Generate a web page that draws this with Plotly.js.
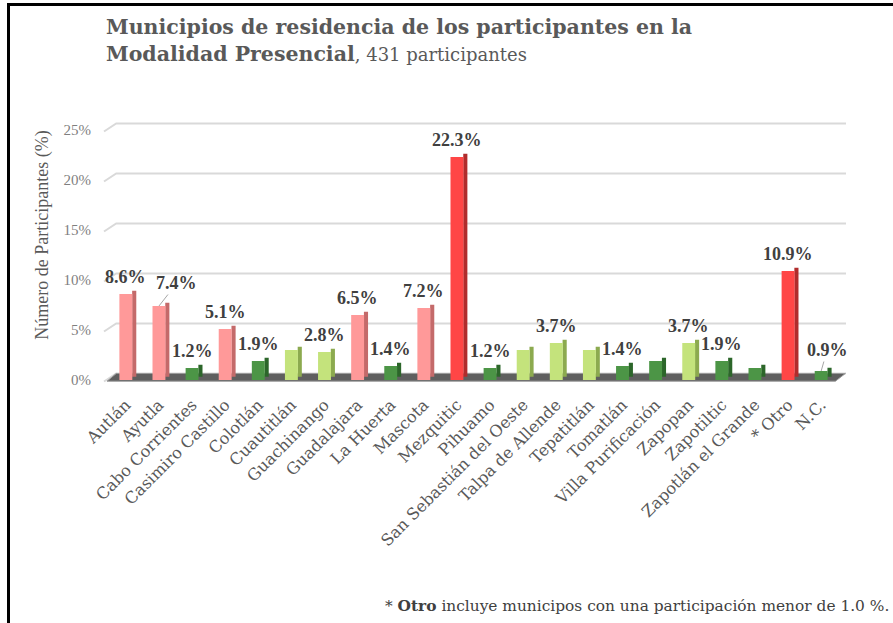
<!DOCTYPE html>
<html>
<head>
<meta charset="utf-8">
<script src="https://cdn.plot.ly/plotly-3.0.1.min.js"></script>
<style>
  html, body { margin: 0; padding: 0; background: #fff; }
  #chart { width: 893px; height: 623px; }
</style>
</head>
<body>
<div id="chart"></div>
<script>
// ── Data ──────────────────────────────────────────────────────
const MUNICIPIOS = [
  "Autlán", "Ayutla", "Cabo Corrientes", "Casimiro Castillo", "Colotlán",
  "Cuautitlán", "Guachinango", "Guadalajara", "La Huerta", "Mascota",
  "Mezquitic", "Pihuamo", "San Sebastián del Oeste", "Talpa de Allende",
  "Tepatitlán", "Tomatlán", "Villa Purificación", "Zapopan", "Zapotiltic",
  "Zapotlán el Grande", "* Otro", "N.C."
];

// percent of 431 participants
const PORCENTAJES = [
  8.6, 7.4, 1.2, 5.1, 1.9,
  3.0, 2.8, 6.5, 1.4, 7.2,
  22.3, 1.2, 3.0, 3.7,
  3.0, 1.4, 1.9, 3.7, 1.9,
  1.2, 10.9, 0.9
];

// data labels as shown on the chart ("" = not labelled)
const ETIQUETAS = [
  "8.6%", "7.4%", "1.2%", "5.1%", "1.9%",
  "", "2.8%", "6.5%", "1.4%", "7.2%",
  "22.3%", "1.2%", "", "3.7%",
  "", "1.4%", "", "3.7%", "1.9%",
  "", "10.9%", "0.9%"
];

const Y_TICKS = [0, 5, 10, 15, 20, 25];

// ── Style ─────────────────────────────────────────────────────
const SERIF = "Liberation Serif, Times New Roman, serif";
const WIDE_SERIF = "DejaVu Serif, serif";
const DEPTH = 0.65;   // fake 3D depth, in y units

function bandColor(v) {
  if (v >= 10) return { front: "#FF4646", side: "#B02C2C" };
  if (v >= 5)  return { front: "#FF9999", side: "#C46A6A" };
  if (v >= 2.5) return { front: "#C4E37C", side: "#8CAA4F" };
  return { front: "#4C9546", side: "#2C662A" };
}

// label leader lines: index -> [ax, ay]
const LEADERS = { 1: [18, -23], 21: [6, -21] };

// ── Traces ────────────────────────────────────────────────────
const colors = PORCENTAJES.map(bandColor);

const sideTrace = {
  type: "bar",
  x: MUNICIPIOS,
  y: PORCENTAJES,
  base: DEPTH / 2,
  offset: 0.19,
  width: 0.125,
  marker: { color: colors.map(c => c.side), line: { width: 0 } },
  hoverinfo: "skip",
  showlegend: false,
};

const frontTrace = {
  type: "bar",
  x: MUNICIPIOS,
  y: PORCENTAJES,
  offset: -0.195,
  width: 0.39,
  marker: { color: colors.map(c => c.front), line: { width: 0 } },
  showlegend: false,
};

// ── Shapes: floor + back-wall gridlines ───────────────────────
const shapes = [];
Y_TICKS.forEach(v => {
  shapes.push({
    type: "path",
    xref: "x", yref: "y",
    path: `M -0.66,${v - 0.15} L -0.29,${v + DEPTH} L 21.75,${v + DEPTH}`,
    line: { color: "#D9D9D9", width: 2 },
    layer: "below",
  });
});
shapes.push({
  type: "path",
  xref: "x", yref: "y",
  path: `M -0.57,-0.12 L 21.43,-0.12 L 21.73,${DEPTH} L -0.29,${DEPTH} Z`,
  fillcolor: "#5F5F5F",
  line: { color: "#9A9A9A", width: 1 },
  layer: "below",
});

// ── Annotations ───────────────────────────────────────────────
const annotations = [];
ETIQUETAS.forEach((t, i) => {
  if (!t) return;
  const lead = LEADERS[i];
  const a = {
    x: MUNICIPIOS[i],
    y: PORCENTAJES[i],
    text: "<b>" + t + "</b>",
    font: { family: SERIF, size: 18, color: "#404040" },
  };
  if (lead) {
    Object.assign(a, {
      showarrow: true, arrowhead: 0, arrowwidth: 1, arrowcolor: "#A6A6A6",
      ax: lead[0], ay: lead[1], standoff: 0,
    });
  } else {
    Object.assign(a, { showarrow: false, yanchor: "bottom", yshift: 5 });
  }
  annotations.push(a);
});

// title
annotations.push({
  xref: "paper", yref: "paper",
  x: (104 - 103) / 744, y: (383 - 13) / 263,
  xanchor: "left", yanchor: "top", align: "left",
  showarrow: false,
  text: "<b>Municipios de residencia de los participantes en la</b><br>" +
        "<b>Modalidad Presencial</b><span style='font-size:18px'>, 431 participantes</span>",
  font: { family: WIDE_SERIF, size: 20.5, color: "#595959" },
});

annotations.push({
  xref: "paper", yref: "paper",
  x: -0.081, y: 0.563,
  xanchor: "center", yanchor: "middle",
  textangle: -90,
  showarrow: false,
  text: "Número de Participantes (%)",
  font: { family: SERIF, size: 18, color: "#595959" },
});

annotations.push({
  xref: "paper", yref: "paper",
  x: 0.377, y: -0.848,
  xanchor: "left", yanchor: "middle",
  showarrow: false,
  text: "* <b>Otro</b> incluye municipos con una participación menor de 1.0 %.",
  font: { family: WIDE_SERIF, size: 15.4, color: "#404040" },
});

// ── Layout ────────────────────────────────────────────────────
const layout = {
  width: 893,
  height: 623,
  paper_bgcolor: "#ffffff",
  plot_bgcolor: "rgba(0,0,0,0)",
  margin: { l: 103, r: 46, t: 120, b: 240 },
  barmode: "overlay",
  xaxis: {
    type: "category",
    range: [-0.69, 21.78],
    tickangle: -45,
    ticks: "outside",
    ticklen: 5,
    tickcolor: "rgba(0,0,0,0)",
    showgrid: false,
    showline: false,
    zeroline: false,
    tickfont: { family: WIDE_SERIF, size: 16.2, color: "#595959" },
    fixedrange: true,
  },
  yaxis: {
    range: [-0.3, 26],
    tickvals: Y_TICKS,
    ticktext: Y_TICKS.map(v => v + "%"),
    ticks: "outside",
    ticklen: 8,
    tickcolor: "rgba(0,0,0,0)",
    showgrid: false,
    zeroline: false,
    showline: false,
    tickfont: { family: SERIF, size: 15, color: "#7F7F7F" },
    fixedrange: true,
  },
  shapes: shapes.concat([{
    type: "rect",
    xref: "paper", yref: "paper",
    x0: (8.5 - 103) / 744, x1: 1.2,
    y0: -1.2, y1: (383 - 4.5) / 263,
    line: { color: "#000000", width: 3 },
    fillcolor: "rgba(0,0,0,0)",
  }]),
  annotations: annotations,
};

Plotly.newPlot("chart", [sideTrace, frontTrace], layout, { displayModeBar: false, staticPlot: true });
</script>
</body>
</html>
